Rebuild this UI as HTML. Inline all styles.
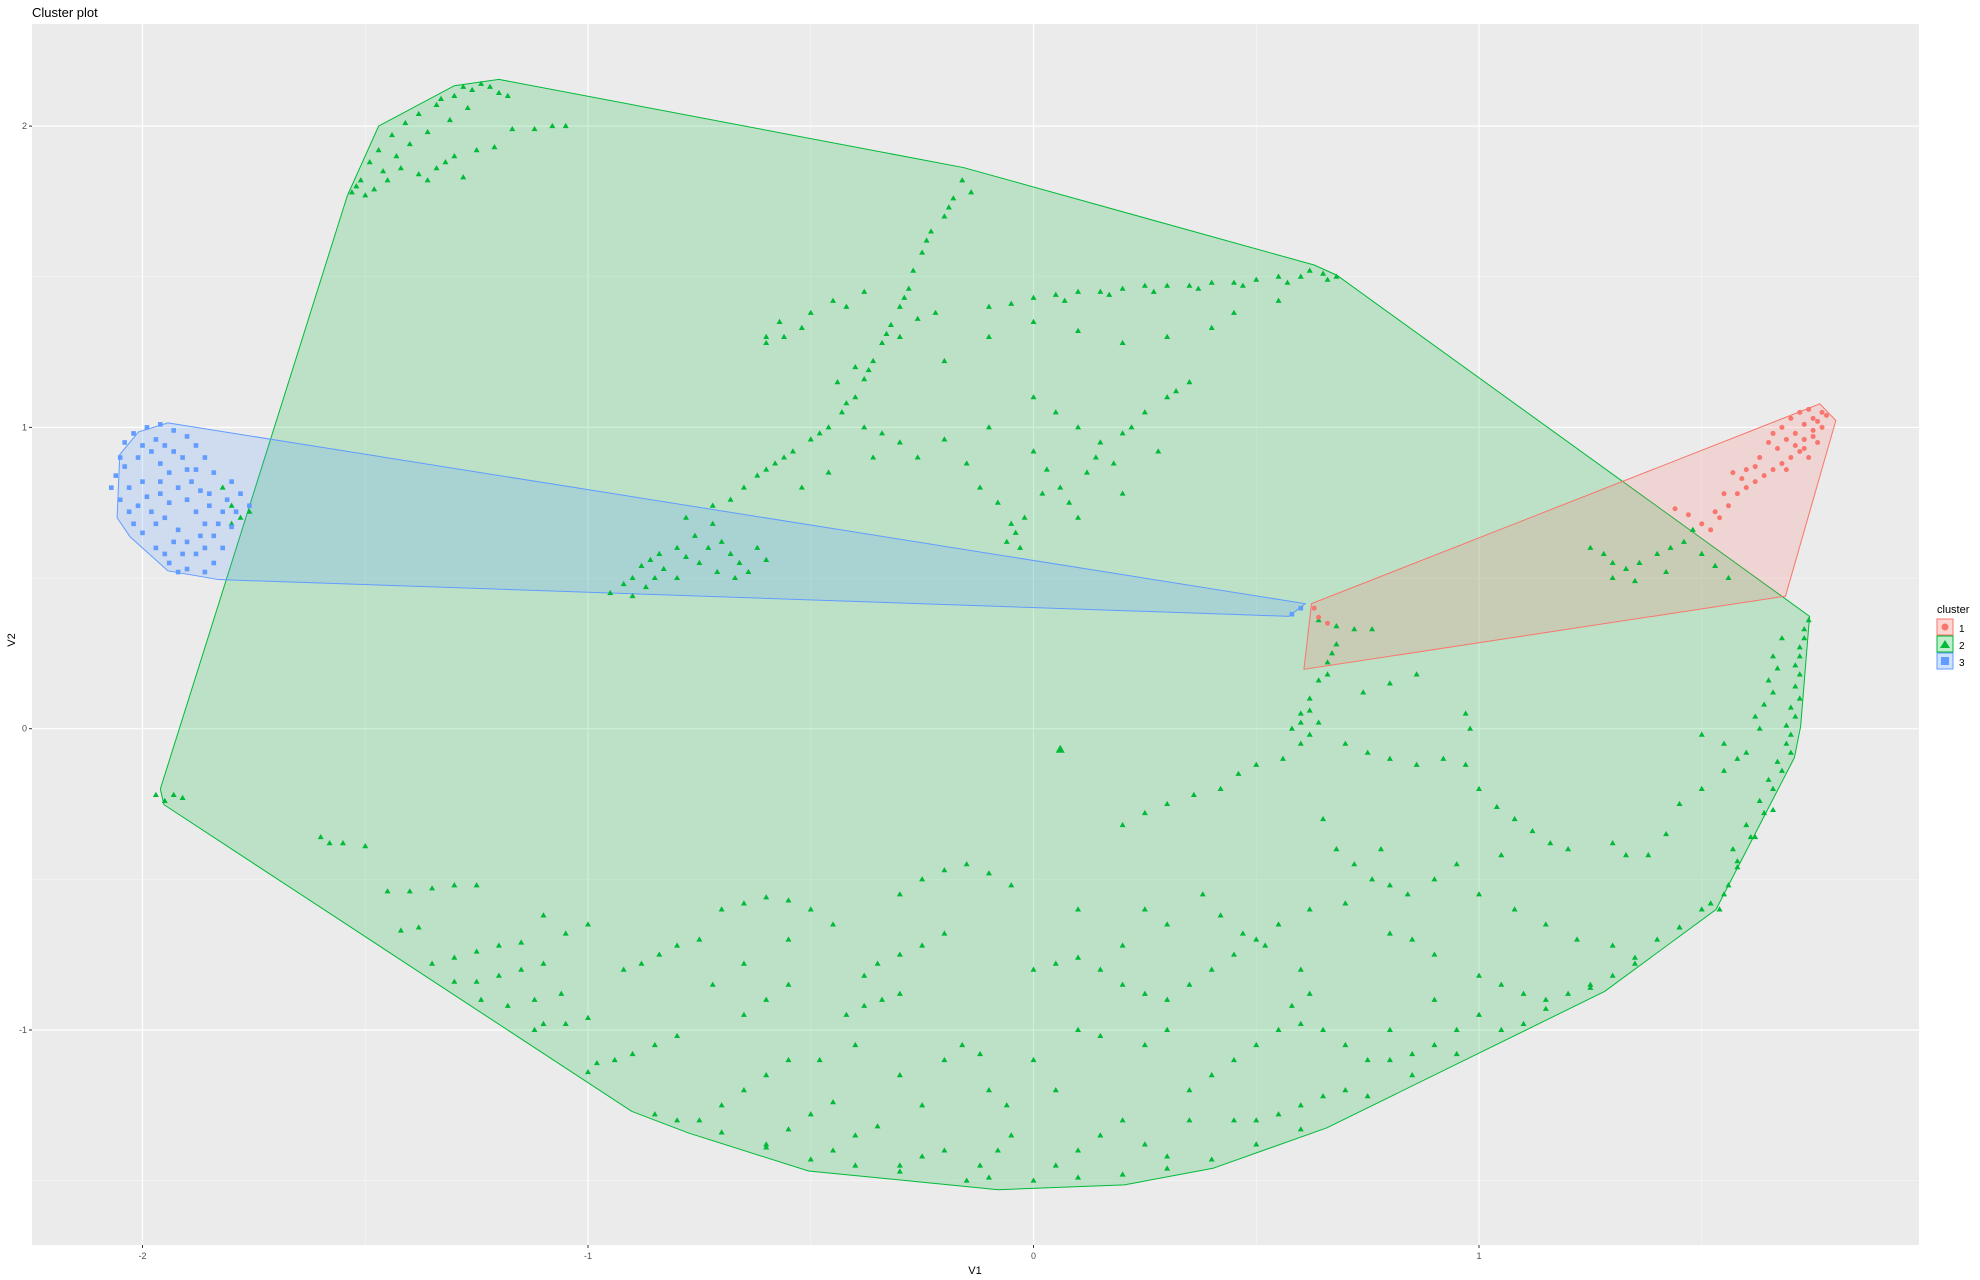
<!DOCTYPE html>
<html><head><meta charset="utf-8"><style>
html,body{margin:0;padding:0;background:#fff;}
svg{display:block;font-family:"Liberation Sans",Arial,sans-serif;}
</style></head><body>
<svg id="chart" width="1980" height="1280" viewBox="0 0 1980 1280" xmlns="http://www.w3.org/2000/svg">
<text x="32" y="17" font-size="13" fill="#000">Cluster plot</text>
<rect x="32" y="24" width="1887" height="1221" fill="#EBEBEB"/>
<g id="grid"></g>
<g id="hulls"></g>
<g id="points"></g>
<g id="axes"></g>
<text x="975" y="1274" font-size="11" text-anchor="middle">V1</text>
<text x="15" y="640" font-size="11" text-anchor="middle" transform="rotate(-90 15 640)">V2</text>
<g>
<text x="1937" y="613" font-size="11">cluster</text>
<g><rect x="1937" y="619" width="16" height="16" fill="rgba(248,118,109,0.3)" stroke="#F8766D"/><circle cx="1945" cy="627" r="3.5" fill="#F8766D"/><text x="1959" y="632" font-size="10">1</text></g>
<g><rect x="1937" y="636" width="16" height="16" fill="rgba(0,186,56,0.25)" stroke="#00BA38"/><polygon points="1945,640 1950,648 1940,648" fill="#00BA38"/><text x="1959" y="649" font-size="10">2</text></g>
<g><rect x="1937" y="653" width="16" height="16" fill="rgba(97,156,255,0.3)" stroke="#619CFF"/><rect x="1941" y="657" width="8" height="8" fill="#619CFF"/><text x="1959" y="666" font-size="10">3</text></g>
</g>
</svg>
<script>
const xTicks=[-2,-1,0,1];
const yTicks=[-1,0,1,2];
const xMinor=[-2.5,-1.5,-0.5,0.5,1.5];
const yMinor=[-1.5,-0.5,0.5,1.5];
const hullGreen=[[-1.20,2.155],[-0.156,1.862],[0.63,1.539],[0.681,1.505],[1.742,0.373],[1.722,0.008],[1.708,-0.096],[1.532,-0.60],[1.282,-0.872],[0.658,-1.325],[0.403,-1.459],[0.204,-1.514],[-0.079,-1.530],[-0.505,-1.468],[-0.774,-1.342],[-0.902,-1.270],[-1.952,-0.252],[-1.96,-0.20],[-1.54,1.77],[-1.47,2.0],[-1.30,2.134]];
const hullBlue=[[-1.943,1.015],[0.61,0.415],[0.573,0.373],[-1.83,0.495],[-1.943,0.524],[-2.028,0.637],[-2.057,0.70],[-2.051,0.91],[-2.009,0.985]];
const hullRed=[[1.765,1.078],[1.801,1.023],[1.688,0.44],[0.607,0.197],[0.624,0.415]];
const ptsRed=[[1.77,1.05],[1.76,1.02],[1.75,0.99],[1.73,0.96],[1.72,0.92],[1.7,0.9],[1.68,0.88],[1.66,0.86],[1.64,0.84],[1.62,0.82],[1.6,0.8],[1.58,0.78],[1.56,0.74],[1.54,0.7],[1.52,0.66],[1.65,0.95],[1.68,1.0],[1.7,1.03],[1.72,1.05],[1.74,1.06],[1.67,0.93],[1.63,0.9],[1.6,0.86],[1.57,0.85],[1.74,0.9],[1.76,0.95],[1.71,0.98],[1.66,0.98],[1.44,0.73],[1.47,0.71],[0.63,0.4],[0.64,0.37],[0.66,0.35],
[1.78,1.04],[1.75,1.03],[1.73,1.01],[1.69,0.96],[1.71,0.94],[1.73,0.93],[1.75,0.97],[1.62,0.87],[1.59,0.83],[1.55,0.78],[1.53,0.72],[1.5,0.68],[1.69,0.86],[1.77,1.0]];
const ptsBlue=[[-2.05,0.9],[-2.06,0.84],[-2.07,0.8],[-2.05,0.76],[-2.03,0.72],[-2.04,0.95],[-2.02,0.98],[-1.99,1.0],[-1.96,1.01],[-1.93,0.99],[-1.9,0.97],[-1.88,0.94],[-1.86,0.9],[-1.84,0.85],[-1.8,0.82],[-1.78,0.78],[-1.76,0.74],[-1.98,0.92],[-1.96,0.88],[-1.94,0.85],[-1.92,0.8],[-1.9,0.76],[-1.88,0.72],[-1.86,0.68],[-1.84,0.64],[-1.82,0.6],[-1.84,0.55],[-1.86,0.52],[-1.9,0.53],[-1.94,0.55],[-1.97,0.6],[-2.0,0.65],[-2.02,0.68],[-1.98,0.72],[-1.95,0.7],[-1.92,0.66],[-1.9,0.62],[-1.96,0.78],[-2.0,0.82],[-1.93,0.92],[-1.88,0.86],[-1.85,0.78],[-1.82,0.72],[-1.88,0.58],[-1.8,0.67],[0.58,0.38],[0.6,0.4],
[-2.04,0.87],[-2.01,0.9],[-2.0,0.94],[-1.97,0.96],[-1.95,0.94],[-1.91,0.9],[-1.89,0.82],[-1.87,0.79],[-1.94,0.75],[-1.99,0.77],[-2.03,0.8],[-2.01,0.74],[-1.97,0.68],[-1.93,0.62],[-1.91,0.58],[-1.86,0.6],[-1.83,0.68],[-1.81,0.76],[-1.79,0.72],[-1.87,0.64],[-1.95,0.58],[-1.92,0.52],[-1.85,0.74],[-1.9,0.86],[-1.96,0.82]];
const ptsGreen=[[-1.53,1.78],[-1.51,1.82],[-1.49,1.88],[-1.47,1.92],[-1.44,1.97],[-1.41,2.01],[-1.38,2.04],[-1.34,2.07],[-1.30,2.10],[-1.26,2.12],[-1.22,2.13],[-1.18,2.1],[-1.45,1.82],[-1.42,1.86],[-1.38,1.84],[-1.34,1.86],[-1.3,1.9],[-1.25,1.92],[-1.21,1.93],[-1.17,1.99],[-1.12,1.99],[-1.08,2.0],[-1.05,2.0],[-1.36,1.98],[-1.31,2.02],[-1.27,2.06],[-1.4,1.94],
[-1.52,1.8],[-1.5,1.77],[-1.48,1.79],[-1.46,1.85],[-1.43,1.9],[-1.33,2.09],[-1.28,2.13],[-1.24,2.14],[-1.2,2.11],[-1.32,1.88],[-1.28,1.83],[-1.36,1.82],
[-0.16,1.82],[-0.18,1.76],[-0.2,1.7],[-0.23,1.65],[-0.25,1.58],[-0.27,1.52],[-0.28,1.46],[-0.3,1.4],[-0.32,1.34],[-0.34,1.28],[-0.36,1.22],[-0.38,1.16],[-0.4,1.1],[-0.43,1.05],[-0.46,1.0],[-0.5,0.96],[-0.54,0.92],[-0.58,0.88],[-0.62,0.84],[-0.65,0.8],[-0.68,0.76],[-0.72,0.74],[-0.3,1.3],[-0.26,1.36],[-0.22,1.38],[-0.4,1.2],[-0.44,1.15],[-0.38,1.0],[-0.34,0.98],[-0.3,0.95],[-0.26,0.9],[-0.56,1.3],[-0.6,1.28],[-0.5,1.38],[-0.45,1.42],[-0.36,0.9],[-0.46,0.85],[-0.52,0.8],
[-0.14,1.78],[-0.19,1.73],[-0.24,1.62],[-0.29,1.43],[-0.33,1.31],[-0.37,1.19],[-0.42,1.08],[-0.48,0.98],[-0.56,0.9],[-0.6,0.86],
[-0.1,1.4],[-0.05,1.41],[0.0,1.43],[0.05,1.44],[0.1,1.45],[0.15,1.45],[0.2,1.46],[0.25,1.47],[0.3,1.47],[0.35,1.47],[0.4,1.48],[0.45,1.48],[0.5,1.49],[0.55,1.5],[0.6,1.5],[0.65,1.51],[0.68,1.5],[0.55,1.42],[0.45,1.38],[0.4,1.33],[0.3,1.3],[0.2,1.28],[0.1,1.32],[0.0,1.35],[-0.1,1.3],[-0.2,1.22],
[0.07,1.42],[0.17,1.44],[0.27,1.45],[0.37,1.46],[0.47,1.47],[0.57,1.48],[0.62,1.52],[0.66,1.49],
[0.0,1.1],[0.05,1.05],[0.1,1.0],[0.15,0.95],[0.2,0.98],[0.25,1.05],[0.3,1.1],[0.35,1.15],[0.0,0.92],[0.03,0.86],[0.06,0.8],[0.08,0.75],[0.1,0.7],[-0.02,0.7],[-0.04,0.65],[-0.03,0.6],[-0.08,0.75],[-0.12,0.8],[-0.15,0.88],[0.12,0.85],[0.18,0.88],[0.2,0.78],[0.28,0.92],[-0.2,0.96],[-0.1,1.0],
[-0.05,0.68],[-0.06,0.62],[0.02,0.78],[0.14,0.9],[0.22,1.0],[0.32,1.12],
[-0.95,0.45],[-0.92,0.48],[-0.9,0.5],[-0.88,0.54],[-0.86,0.56],[-0.84,0.58],[-0.8,0.6],[-0.76,0.64],[-0.72,0.68],[-0.7,0.62],[-0.68,0.58],[-0.66,0.55],[-0.64,0.52],[-0.75,0.55],[-0.8,0.5],[-0.85,0.5],[-0.62,0.6],[-0.6,0.56],[-0.9,0.44],[-0.78,0.7],
[-0.87,0.47],[-0.83,0.53],[-0.78,0.57],[-0.73,0.6],[-0.67,0.5],[-0.71,0.52],
[-1.8,0.68],[-1.78,0.7],[-1.76,0.72],[-1.82,0.8],[-1.8,0.74],
[-0.6,1.3],[-0.57,1.35],[-0.52,1.33],[-0.42,1.4],[-0.38,1.45],
[1.25,0.6],[1.28,0.58],[1.3,0.55],[1.33,0.53],[1.36,0.55],[1.4,0.58],[1.43,0.6],[1.46,0.62],[1.5,0.58],[1.53,0.54],[1.56,0.5],[1.3,0.5],[1.35,0.49],[1.42,0.52],[1.48,0.66],
[0.64,0.36],[0.68,0.34],[0.72,0.33],[0.76,0.33],[0.68,0.28],[0.66,0.22],[0.64,0.16],[0.62,0.1],[0.6,0.05],[0.58,0.0],
[1.74,0.36],[1.73,0.3],[1.72,0.24],[1.72,0.18],[1.72,0.1],[1.71,0.04],[1.7,-0.02],[1.7,-0.08],[1.68,-0.14],[1.66,-0.2],[1.64,-0.28],[1.61,-0.36],[1.58,-0.44],[1.56,-0.52],[1.54,-0.6],[1.68,0.3],[1.66,0.24],[1.65,0.16],[1.64,0.08],[1.63,0.0],[1.6,-0.08],[1.55,-0.14],[1.5,-0.2],[1.45,-0.25],[1.42,-0.35],[1.38,-0.42],[1.33,-0.42],[1.3,-0.38],[1.55,-0.05],[1.5,-0.02],
[1.73,0.33],[1.72,0.27],[1.71,0.21],[1.71,0.14],[1.7,0.07],[1.69,0.01],[1.69,-0.05],[1.67,-0.11],[1.65,-0.17],[1.63,-0.24],[1.6,-0.32],[1.57,-0.4],[1.67,0.2],[1.66,0.12],[1.62,0.04],[1.58,-0.1],
[0.6,-0.05],[0.56,-0.1],[0.5,-0.12],[0.46,-0.15],[0.42,-0.2],[0.36,-0.22],[0.3,-0.25],[0.25,-0.28],[0.2,-0.32],[0.7,-0.05],[0.75,-0.08],[0.8,-0.1],[0.86,-0.12],[0.92,-0.1],[0.97,-0.12],[1.0,-0.2],[1.04,-0.26],[1.08,-0.3],[1.12,-0.34],[1.16,-0.38],[1.2,-0.4],[0.97,0.05],[0.98,0.0],[0.65,-0.3],[0.68,-0.4],[0.72,-0.45],[0.76,-0.5],[0.8,-0.52],[0.84,-0.55],[0.78,-0.4],[0.74,0.12],[0.8,0.15],[0.86,0.18],
[0.62,0.06],[0.6,0.02],[0.62,-0.02],[0.64,0.02],[0.66,0.18],[0.67,0.25],
[-1.97,-0.22],[-1.95,-0.24],[-1.93,-0.22],[-1.91,-0.23],[-1.6,-0.36],[-1.58,-0.38],[-1.55,-0.38],[-1.5,-0.39],[-1.45,-0.54],[-1.4,-0.54],[-1.35,-0.53],[-1.3,-0.52],[-1.25,-0.52],[-1.42,-0.67],[-1.38,-0.66],
[-1.35,-0.78],[-1.3,-0.76],[-1.25,-0.74],[-1.2,-0.72],[-1.15,-0.71],[-1.3,-0.84],[-1.25,-0.84],[-1.2,-0.82],[-1.15,-0.8],[-1.1,-0.78],[-1.24,-0.9],[-1.18,-0.92],[-1.12,-0.9],[-1.06,-0.88],[-1.12,-1.0],[-1.1,-0.98],[-1.05,-0.98],[-1.0,-0.96],[-1.0,-1.14],[-0.98,-1.11],[-0.94,-1.1],[-0.9,-1.08],[-0.85,-1.05],[-0.8,-1.02],[-0.92,-0.8],[-0.88,-0.78],[-0.84,-0.75],[-0.8,-0.72],[-0.75,-0.7],[-0.7,-0.6],[-0.65,-0.58],[-0.6,-0.56],[-0.55,-0.57],[-0.5,-0.6],[-0.75,-1.3],[-0.7,-1.25],[-0.65,-1.2],[-0.6,-1.15],[-0.55,-1.1],[-0.6,-1.38],[-0.55,-1.33],[-0.5,-1.28],[-0.45,-1.24],[-0.5,-1.43],[-0.45,-1.4],[-0.4,-1.35],[-0.35,-1.32],[-0.38,-0.82],[-0.35,-0.78],[-0.3,-0.75],[-0.25,-0.72],[-0.2,-0.68],[-0.3,-0.55],[-0.25,-0.5],[-0.2,-0.47],[-0.15,-0.45],[-0.1,-0.48],[-0.05,-0.52],[-0.42,-0.95],[-0.38,-0.92],[-0.34,-0.9],[-0.3,-0.88],[-0.3,-1.45],[-0.25,-1.42],[-0.2,-1.4],[-0.15,-1.5],[-0.12,-1.45],[-0.08,-1.4],[-0.05,-1.35],[-0.2,-1.1],[-0.16,-1.05],[-0.12,-1.08],[-0.1,-1.2],[-0.06,-1.25],[0.0,-0.8],[0.05,-0.78],[0.1,-0.76],[0.15,-0.8],[0.2,-0.85],[0.25,-0.88],[0.3,-0.9],[0.35,-0.85],[0.4,-0.8],[0.45,-0.75],[0.5,-0.7],[0.55,-0.65],[0.05,-1.45],[0.1,-1.4],[0.15,-1.35],[0.2,-1.3],[0.25,-1.38],[0.3,-1.42],[0.2,-1.48],[0.35,-1.2],[0.4,-1.15],[0.45,-1.1],[0.5,-1.05],[0.55,-1.0],[0.6,-0.98],[0.65,-1.0],[0.7,-1.05],[0.75,-1.1],[0.8,-1.1],[0.85,-1.08],[0.9,-1.05],[0.95,-1.0],[0.45,-1.3],[0.5,-1.3],[0.55,-1.28],[0.6,-1.25],[0.65,-1.22],[0.7,-1.2],[1.0,-0.82],[1.05,-0.85],[1.1,-0.88],[1.15,-0.9],[1.2,-0.88],[1.25,-0.85],[1.3,-0.82],[1.35,-0.76],[1.4,-0.7],[1.45,-0.66],[1.5,-0.6],[1.3,-0.72],[1.22,-0.7],[1.15,-0.65],[0.9,-0.75],[0.85,-0.7],[0.8,-0.68],[0.6,-0.8],[0.62,-0.88],[0.58,-0.92],[0.1,-1.0],[0.15,-1.02],[0.25,-1.05],[0.3,-1.0],[-0.85,-1.28],[-1.0,-0.65],[-1.05,-0.68],[-1.1,-0.62],[-0.6,-0.9],[-0.55,-0.85],[-0.65,-0.95],
[-0.8,-1.3],[-0.7,-1.34],[-0.6,-1.39],[-0.4,-1.45],[-0.3,-1.47],[-0.1,-1.49],[0.0,-1.5],[0.1,-1.49],[0.3,-1.46],[0.4,-1.43],[0.5,-1.38],[0.6,-1.33],[0.75,-1.22],[0.85,-1.15],[0.95,-1.08],[1.05,-1.0],[1.15,-0.93],[1.25,-0.86],[1.35,-0.78],[1.45,-0.66],[1.52,-0.58],[1.55,-0.55],[1.58,-0.46],[1.62,-0.36],[1.66,-0.27],
[0.38,-0.55],[0.42,-0.62],[0.47,-0.68],[0.52,-0.72],[0.62,-0.6],[0.7,-0.58],[0.9,-0.5],[0.95,-0.45],[1.0,-0.55],[1.08,-0.6],[1.05,-0.42],[0.3,-0.65],[0.25,-0.6],[0.2,-0.72],[0.1,-0.6],[-0.45,-0.65],[-0.55,-0.7],[-0.65,-0.78],[-0.72,-0.85],[-0.4,-1.05],[-0.48,-1.1],[-0.3,-1.15],[-0.25,-1.25],[0.0,-1.1],[0.05,-1.2],[0.35,-1.3],[0.8,-1.0],[0.9,-0.9],[1.0,-0.95],[1.1,-0.98]];
const bigPoint=[[0.06,-0.07]];

const NS='http://www.w3.org/2000/svg';
const X0=32,X1=1919,Y0=24,Y1=1245;
function sx(v){return 1033.5+v*445.5;}
function sy(v){return 728.7-v*301.3;}
function mk(tag,attrs,parent){const e=document.createElementNS(NS,tag);for(const k in attrs)e.setAttribute(k,attrs[k]);parent.appendChild(e);return e;}
const grid=document.getElementById('grid');
xMinor.forEach(v=>{const l=mk('line',{x1:sx(v),x2:sx(v),y1:Y0,y2:Y1,stroke:'#F7F7F7','stroke-width':0.6},grid);

});
yMinor.forEach(v=>{const l=mk('line',{x1:X0,x2:X1,y1:sy(v),y2:sy(v),stroke:'#F7F7F7','stroke-width':0.6},grid);

});
xTicks.forEach(v=>{const l=mk('line',{x1:sx(v),x2:sx(v),y1:Y0,y2:Y1,stroke:'#fff','stroke-width':1.2},grid);

});
yTicks.forEach(v=>{const l=mk('line',{x1:X0,x2:X1,y1:sy(v),y2:sy(v),stroke:'#fff','stroke-width':1.2},grid);

});
const axes=document.getElementById('axes');
xTicks.forEach(v=>{mk('line',{x1:sx(v),x2:sx(v),y1:Y1,y2:Y1+3,stroke:'#333'},axes);
const t=mk('text',{x:sx(v),y:Y1+14,'font-size':9,fill:'#4D4D4D','text-anchor':'middle'},axes);t.textContent=v;

});
yTicks.forEach(v=>{mk('line',{x1:X0-3,x2:X0,y1:sy(v),y2:sy(v),stroke:'#333'},axes);
const t=mk('text',{x:X0-5,y:sy(v)+3,'font-size':9,fill:'#4D4D4D','text-anchor':'end'},axes);t.textContent=v;

});
const hulls=document.getElementById('hulls');
function hull(arr,col,name){const p=mk('polygon',{points:arr.map(d=>sx(d[0])+','+sy(d[1])).join(' '),fill:col,'fill-opacity':0.2,stroke:col,'stroke-width':1},hulls);

}
hull(hullGreen,'#00BA38','hull-cluster-2');
hull(hullBlue,'#619CFF','hull-cluster-3');
hull(hullRed,'#F8766D','hull-cluster-1');
const pts=document.getElementById('points');
ptsGreen.forEach(d=>{const x=sx(d[0]),y=sy(d[1]);const p=mk('polygon',{points:`${x},${y-3.2} ${x+3},${y+2} ${x-3},${y+2}`,fill:'#00BA38'},pts);

});
bigPoint.forEach(d=>{const x=sx(d[0]),y=sy(d[1]);const p=mk('polygon',{points:`${x},${y-5} ${x+4.5},${y+3} ${x-4.5},${y+3}`,fill:'#00BA38'},pts);

});
ptsBlue.forEach(d=>{const x=sx(d[0]),y=sy(d[1]);const p=mk('rect',{x:x-2.3,y:y-2.3,width:4.6,height:4.6,fill:'#619CFF'},pts);

});
ptsRed.forEach(d=>{const p=mk('circle',{cx:sx(d[0]),cy:sy(d[1]),r:2.5,fill:'#F8766D'},pts);

});
</script>
</body></html>
